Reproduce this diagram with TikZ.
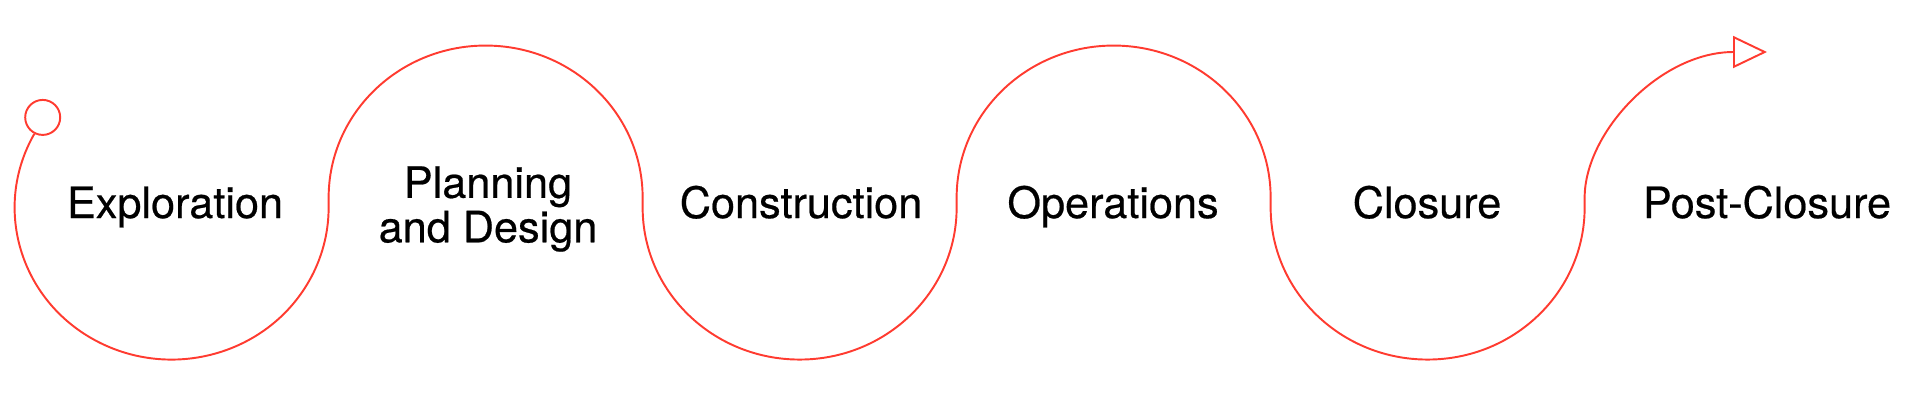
\documentclass[tikz,border=0pt]{standalone}
\usepackage{fontspec}
\setmainfont{TeX Gyre Heros}[FakeBold=0.5]
\usetikzlibrary{arrows.meta,positioning}
\definecolor{wavered}{RGB}{255,59,48}

\begin{document}
\begin{tikzpicture}[
    wave/.style={draw=wavered,line width=0.55pt},
    start node/.style={circle,draw=wavered,line width=0.55pt,minimum size=0.35cm,inner sep=0pt},
    stage node/.style={font=\fontsize{12.3}{11.4}\selectfont\addfontfeatures{FakeBold=0.5},anchor=base,align=center,inner sep=0pt}
]
\useasboundingbox (0,0) rectangle (19.2,4);

% Start
\node[start node] (start) at (0.427,2.826) {};

% Stages
\node[stage node] (exploration) at (1.75,1.82) {Exploration};
\node[stage node,anchor=center] (planning) at (4.88,1.91) {Planning\\and Design};
\node[stage node] (construction) at (8.01,1.82) {Construction};
\node[stage node] (operations) at (11.13,1.82) {Operations};
\node[stage node] (closure) at (14.27,1.82) {Closure};
\node[stage node] (postclosure) at (17.67,1.82) {Post-Closure};

% End
\coordinate (finish) at (17.67,3.48);

% Wave
\draw[wave,-{Triangle[open,length=3.4mm,width=3.2mm]}] (start.243)
    arc[start angle=151,end angle=360,x radius=1.57,y radius=1.52] -- ++(0,0.1)
    arc[start angle=180,end angle=0,x radius=1.57,y radius=1.52] -- ++(0,-0.1)
    arc[start angle=180,end angle=360,x radius=1.57,y radius=1.52] -- ++(0,0.1)
    arc[start angle=180,end angle=0,x radius=1.57,y radius=1.52] -- ++(0,-0.1)
    arc[start angle=180,end angle=360,x radius=1.57,y radius=1.52] -- ++(0,0.1)
    .. controls ++(0,0.65) and (16.6,3.48) .. (finish);

\end{tikzpicture}
\end{document}
